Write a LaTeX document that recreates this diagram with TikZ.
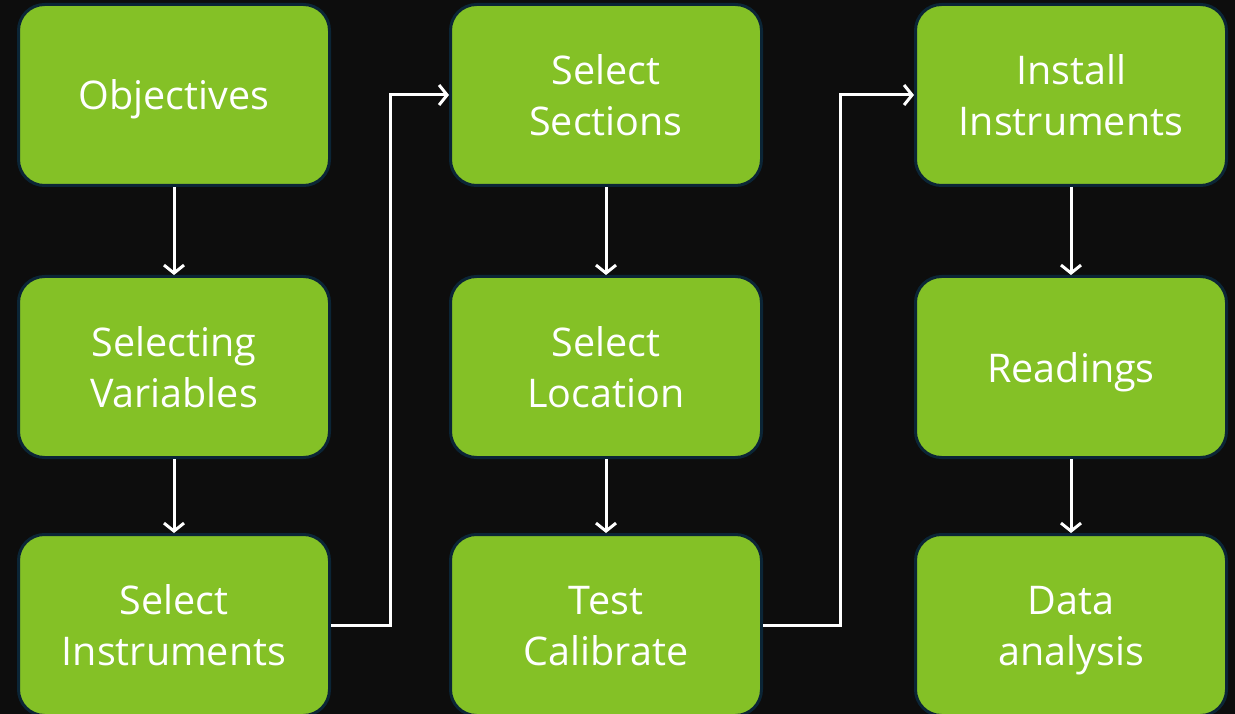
\documentclass[tikz,border=0pt]{standalone}
\usepackage{fontspec}
\setmainfont{Open Sans}
\usetikzlibrary{arrows.meta}
\definecolor{bg}{HTML}{0D0D0D}
\definecolor{boxgreen}{HTML}{84C126}
\definecolor{boxedge}{HTML}{0B2536}
\newcommand\ls{\rule[-10pt]{0pt}{50pt}}
\tikzset{
  stepbox/.style={rectangle, rounded corners=26pt, fill=boxgreen, draw=boxedge, line width=3pt,
    minimum width=311pt, minimum height=181pt, align=center, text=white,
    inner sep=0pt, font=\fontsize{39.5}{51}\selectfont},
  conn/.style={draw=white, line width=3pt, -{Straight Barb[length=8pt,width=20pt]}},
}
\begin{document}
\begin{tikzpicture}[x=1pt,y=-1pt]
\fill[bg] (0,0) rectangle (1235,714);
\useasboundingbox (0,0) rectangle (1235,714);
\node[stepbox] (obj) at (174,95) {\ls Objectives};
\node[stepbox] (var) at (174,367) {\ls Selecting\\\ls Variables};
\node[stepbox] (ins) at (174,625) {\ls Select\\\ls Instruments};
\node[stepbox] (sec) at (606,95) {\ls Select\\\ls Sections};
\node[stepbox] (loc) at (606,367) {\ls Select\\\ls Location};
\node[stepbox] (cal) at (606,625) {\ls Test\\\ls Calibrate};
\node[stepbox] (inst) at (1071,95) {\ls Install\\\ls Instruments};
\node[stepbox] (read) at (1071,367) {\ls Readings};
\node[stepbox] (data) at (1071,625) {\ls Data\\\ls analysis};
\coordinate (e1) at (390,0);
\coordinate (e2) at (840,0);
\draw[conn] (obj) -- (var);
\draw[conn] (var) -- (ins);
\draw[conn] (sec) -- (loc);
\draw[conn] (loc) -- (cal);
\draw[conn] (inst) -- (read);
\draw[conn] (read) -- (data);
\draw[conn] (ins.east) -- (ins.east -| e1) |- (sec.west);
\draw[conn] (cal.east) -- (cal.east -| e2) |- (inst.west);
\end{tikzpicture}
\end{document}
